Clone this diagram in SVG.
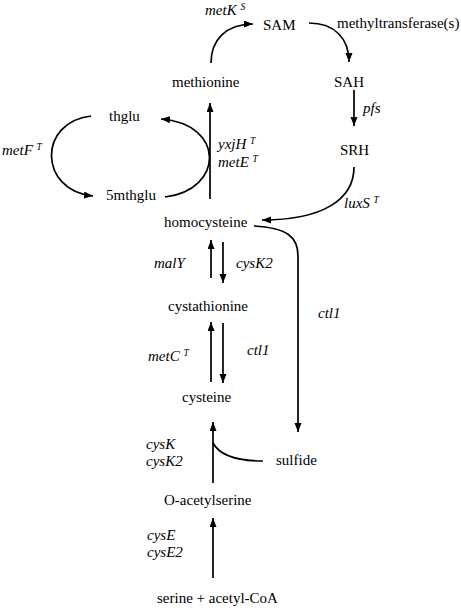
<svg xmlns="http://www.w3.org/2000/svg" width="461" height="608" viewBox="0 0 461 608">
<style>
text{font-family:"Liberation Serif","Times New Roman",serif;font-size:15px;fill:#000}
.e{font-style:italic}
.sup{font-size:9.5px;font-style:italic}
.c{fill:none;stroke:#000;stroke-width:1.7}
</style>
<defs>
<marker id="ah" markerUnits="userSpaceOnUse" markerWidth="10" markerHeight="8" refX="9" refY="3.5" orient="auto">
<path d="M0,0 L9,3.5 L0,7 z" fill="#000"/>
</marker>
</defs>
<rect width="461" height="608" fill="#fff"/>
<g id="connectors">
<path class="c" d="M211,63 C211,40 226,24 253,24" marker-end="url(#ah)"/>
<path class="c" d="M309,23 C334,23 349,38 349,62" marker-end="url(#ah)"/>
<path class="c" d="M354,90 L354,126" marker-end="url(#ah)"/>
<path class="c" d="M354,167 C354,200 322,220 262,220" marker-end="url(#ah)"/>
<path class="c" d="M91,116 C38,122 38,190 93,196" marker-end="url(#ah)"/>
<path class="c" d="M165,197 C224,190 226,124 161,119" marker-end="url(#ah)"/>
<path class="c" d="M210,199 L210,103" marker-end="url(#ah)"/>
<path class="c" d="M254,226 C286,228 298,236 298,256 L298,432" marker-end="url(#ah)"/>
<path class="c" d="M211,278 L211,240" marker-end="url(#ah)"/>
<path class="c" d="M223,242 L223,283" marker-end="url(#ah)"/>
<path class="c" d="M211,382 L211,322" marker-end="url(#ah)"/>
<path class="c" d="M223,323 L223,383" marker-end="url(#ah)"/>
<path class="c" d="M213,483 L213,422" marker-end="url(#ah)"/>
<path class="c" d="M213,443 C220,456 238,461 263,461"/>
<path class="c" d="M213,578 L213,518" marker-end="url(#ah)"/>
</g>
<g id="SAM"><text x="263" y="30">SAM</text></g>
<g id="SAH"><text x="334" y="87">SAH</text></g>
<g id="SRH"><text x="340" y="155">SRH</text></g>
<g id="methionine"><text x="172" y="87">methionine</text></g>
<g id="thglu"><text x="109" y="121">thglu</text></g>
<g id="5mthglu"><text x="106" y="200">5mthglu</text></g>
<g id="homocysteine"><text x="164" y="227">homocysteine</text></g>
<g id="cystathionine"><text x="168" y="311">cystathionine</text></g>
<g id="cysteine"><text x="182" y="402">cysteine</text></g>
<g id="sulfide"><text x="276" y="465">sulfide</text></g>
<g id="O-acetylserine"><text x="164" y="505">O-acetylserine</text></g>
<g id="serine-acetyl-CoA"><text x="157" y="603">serine + acetyl-CoA</text></g>
<g id="labels">
<text class="e" x="205" y="15">metK <tspan class="sup" dy="-5">S</tspan></text>
<text x="337" y="28">methyltransferase(s)</text>
<text class="e" x="363" y="113">pfs</text>
<text class="e" x="2" y="155">metF <tspan class="sup" dy="-5">T</tspan></text>
<text class="e" x="218" y="149">yxjH <tspan class="sup" dy="-5">T</tspan></text>
<text class="e" x="218" y="167">metE <tspan class="sup" dy="-5">T</tspan></text>
<text class="e" x="344" y="208">luxS <tspan class="sup" dy="-5">T</tspan></text>
<text class="e" x="154" y="268">malY</text>
<text class="e" x="236" y="268">cysK2</text>
<text class="e" x="318" y="318">ctl1</text>
<text class="e" x="247" y="355">ctl1</text>
<text class="e" x="148" y="361">metC <tspan class="sup" dy="-5">T</tspan></text>
<text class="e" x="146" y="449">cysK</text>
<text class="e" x="146" y="466">cysK2</text>
<text class="e" x="147" y="540">cysE</text>
<text class="e" x="147" y="557">cysE2</text>
</g>
</svg>
